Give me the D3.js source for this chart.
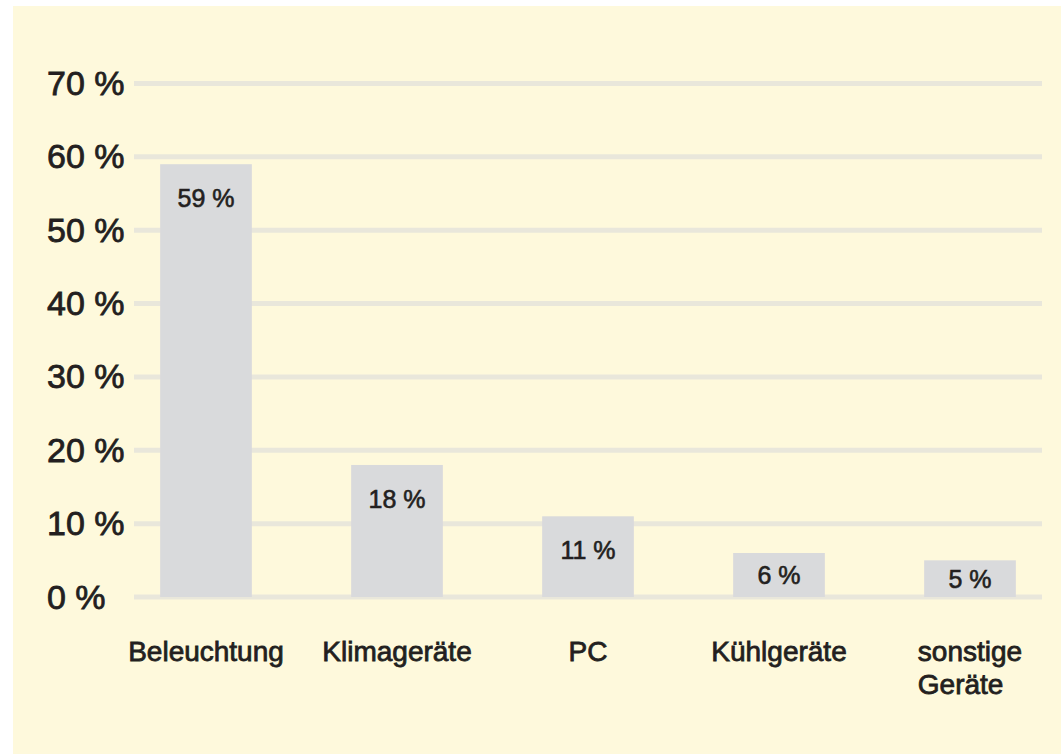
<!DOCTYPE html>
<html>
<head>
<meta charset="utf-8">
<script src="https://cdn.jsdelivr.net/npm/d3@7"></script>
<style>
  html, body { margin: 0; padding: 0; background: #fff; }
  svg { display: block; }
  text {
    font-family: "Liberation Sans", Arial, sans-serif;
    fill: #231f20;
    stroke: #231f20;
    stroke-width: 0.8px;
  }
</style>
</head>
<body>
<div id="chart"></div>
<script>
const categories = [['Beleuchtung'], ['Klimageräte'], ['PC'], ['Kühlgeräte'], ['sonstige', 'Geräte']];
const shares = [59, 18, 11, 6, 5];
const yTicks = [0, 10, 20, 30, 40, 50, 60, 70];

const width = 1061;
const height = 754;
const barColor = '#d9dadc';
const gridColor = '#e9e7db';
const fontStack = '"Liberation Sans", Arial, sans-serif';

const svg = d3.select('#chart')
  .append('svg')
  .attr('width', width)
  .attr('height', height);

// cream panel
svg.append('rect')
  .attr('x', 13)
  .attr('y', 6)
  .attr('width', width - 13)
  .attr('height', height - 6)
  .attr('fill', '#fef9dc');

const x = d3.scaleBand()
  .domain(d3.range(categories.length))
  .range([110.5, 1065.5])
  .paddingInner(0.52)
  .paddingOuter(0.26);

const y = d3.scaleLinear()
  .domain([0, 70])
  .range([597, 83.5]);

const yAxis = d3.axisLeft(y)
  .tickValues(yTicks)
  .tickSize(0)
  .tickFormat(d => `${d} %`);

const yAxisG = svg.append('g').call(yAxis);
yAxisG.select('.domain').remove();
yAxisG.selectAll('text')
  .attr('x', 47)
  .attr('dy', null)
  .attr('y', 11)
  .attr('text-anchor', 'start')
  .attr('fill', '#231f20')
  .style('font-size', '34px')
  .style('font-family', fontStack);

svg.append('g')
  .selectAll('line')
  .data(yTicks).enter()
  .append('line')
  .attr('x1', 134)
  .attr('x2', 1042)
  .attr('y1', d => y(d))
  .attr('y2', d => y(d))
  .attr('stroke', gridColor)
  .attr('stroke-width', 5);

svg.append('g')
  .selectAll('rect')
  .data(shares).enter()
  .append('rect')
  .attr('x', (d, i) => x(i))
  .attr('y', d => y(d))
  .attr('width', x.bandwidth())
  .attr('height', d => y(0) - y(d))
  .attr('fill', barColor);

svg.append('g')
  .selectAll('text')
  .data(shares).enter()
  .append('text')
  .attr('x', (d, i) => x(i) + x.bandwidth() / 2)
  .attr('y', d => Math.min(y(d) + 43, (y(d) + y(0)) / 2 + 9))
  .attr('text-anchor', 'middle')
  .style('font-size', '25px')
  .style('stroke-width', '0.6px')
  .text(d => `${d} %`);

// category labels: lines left-aligned, block centred under the bar
const labels = svg.append('g')
  .selectAll('text')
  .data(categories).enter()
  .append('text')
  .style('font-size', '28px')
  .attr('y', 661);

labels.selectAll('tspan')
  .data(d => d).enter()
  .append('tspan')
  .attr('x', 0)
  .attr('dy', (d, i) => i === 0 ? 0 : 33)
  .text(d => d);

labels.each(function(d, i) {
  const w = this.getBBox().width;
  const left = x(i) + x.bandwidth() / 2 - w / 2;
  d3.select(this).selectAll('tspan').attr('x', left);
});
</script>
</body>
</html>
